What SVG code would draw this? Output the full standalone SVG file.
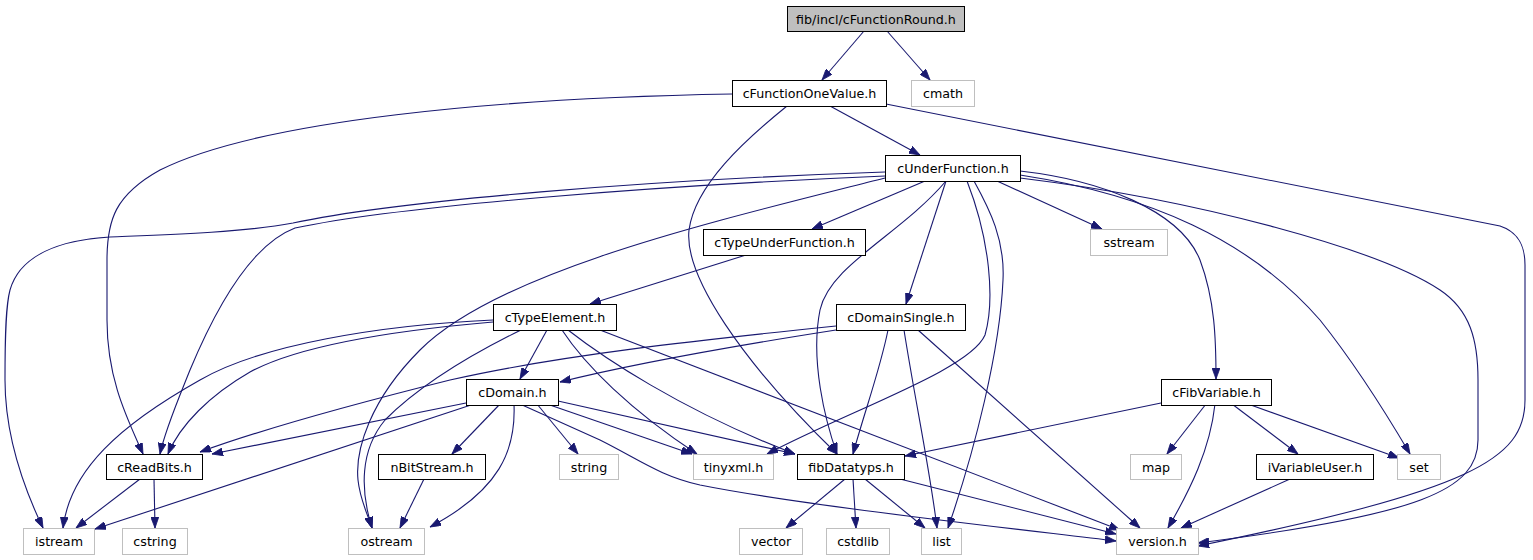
<svg xmlns="http://www.w3.org/2000/svg" width="1533" height="560" viewBox="0 0 1533 560">
<style>
.n rect{fill:#fff;stroke:#000;stroke-width:1}
.x rect{fill:#fff;stroke:#bfbfbf;stroke-width:1}
.r rect{fill:#bfbfbf;stroke:#000;stroke-width:1}
text{font-family:"DejaVu Sans",sans-serif;font-size:12.7px;text-anchor:middle;fill:#000}
#edges path{fill:none;stroke:#191970;stroke-width:1.1;marker-end:url(#a)}
</style>
<defs>
<marker id="a" markerUnits="userSpaceOnUse" viewBox="0 0 11 8" markerWidth="11" markerHeight="8" refX="11" refY="4" orient="auto"><path d="M0,0 L11,4 L0,8 z" fill="#191970" stroke="#191970" stroke-width="0.8"/></marker>
</defs>
<rect width="1533" height="560" fill="#fff"/>
<g id="edges">
<path d="M864,31 L822,80"/>
<path d="M887,31 L930,80"/>
<path d="M830,106 L920,155"/>
<path d="M732,94 C500,98 260,120 160,170 C115,195 107,220 107,260 L107,320 C107,380 128,420 143,454"/>
<path d="M787,106 C745,140 695,185 689,230 C684,275 740,360 837,454"/>
<path d="M886,104 L1500,226 C1518,232 1525,245 1525,265 L1525,400 C1525,460 1470,490 1198,546"/>
<path d="M925,181 L812,229"/>
<path d="M997,181 L1102,229"/>
<path d="M946,181 L906,304"/>
<path d="M1020,171 C1100,180 1180,210 1200,260 C1215,300 1216,340 1216,379"/>
<path d="M1020,175 C1150,195 1250,240 1320,320 C1360,370 1390,420 1410,454"/>
<path d="M1020,178 C1200,200 1380,250 1440,290 C1470,310 1478,340 1478,380 L1478,440 C1478,490 1420,515 1198,543"/>
<path d="M974,181 C990,210 1005,240 1003,280 C1000,350 975,450 948,528"/>
<path d="M967,181 C990,240 995,300 985,335 C970,370 850,410 767,454"/>
<path d="M946,181 C900,235 830,265 820,310 C810,360 825,420 837,454"/>
<path d="M885,178 C720,220 500,270 420,350 C370,400 355,450 358,480 C360,500 368,515 372,528"/>
<path d="M885,172 C650,180 400,200 293,223 C240,233 160,235 110,237 C60,240 20,255 10,290 C6,305 5,330 5,380 C5,430 20,480 43,528"/>
<path d="M885,176 C650,186 400,206 295,228 C250,245 215,310 190,370 C178,400 165,430 160,454"/>
<path d="M746,255 L590,304"/>
<path d="M521,330 C470,355 420,385 385,420 C360,450 360,490 372,528"/>
<path d="M493,320 C380,325 260,345 200,380 C120,425 70,470 63,528"/>
<path d="M493,322 C400,330 300,345 250,372 C210,395 180,425 168,454"/>
<path d="M547,330 L520,379"/>
<path d="M562,330 C585,365 630,410 697,454"/>
<path d="M568,330 C600,355 680,410 795,454"/>
<path d="M600,330 L1120,530"/>
<path d="M836,326 C700,340 560,355 450,380 C350,405 260,430 200,452"/>
<path d="M836,330 C740,345 640,362 560,382"/>
<path d="M888,330 C880,370 865,410 853,454"/>
<path d="M904,330 C915,400 930,470 937,528"/>
<path d="M918,330 L1140,528"/>
<path d="M466,403 L212,454"/>
<path d="M474,404 L95,529"/>
<path d="M500,404 L452,454"/>
<path d="M514,404 C516,450 500,490 430,527"/>
<path d="M537,404 L578,454"/>
<path d="M547,404 L692,454"/>
<path d="M558,401 L795,454"/>
<path d="M520,404 L600,440 C640,460 660,476 700,485 C800,505 1000,527 1116,541"/>
<path d="M1161,403 L905,456"/>
<path d="M1206,404 L1167,454"/>
<path d="M1215,404 C1210,450 1190,490 1168,528"/>
<path d="M1232,404 L1298,454"/>
<path d="M1248,404 L1399,458"/>
<path d="M1290,479 L1181,528"/>
<path d="M845,479 L786,528"/>
<path d="M853,479 L856,528"/>
<path d="M865,479 L925,528"/>
<path d="M900,479 L1116,534"/>
<path d="M140,479 L76,528"/>
<path d="M154,479 L155,528"/>
<path d="M424,479 L400,528"/>
</g>
<g id="n_root" class="r"><rect x="787.5" y="6.5" width="177" height="25"/><text x="876" y="23.5">fib/incl/cFunctionRound.h</text></g>
<g id="n_cFunctionOneValue" class="n"><rect x="732.5" y="80.5" width="154" height="26"/><text x="809.5" y="98">cFunctionOneValue.h</text></g>
<g id="n_cmath" class="x"><rect x="911.5" y="80.5" width="63" height="26"/><text x="943" y="98">cmath</text></g>
<g id="n_cUnderFunction" class="n"><rect x="885.5" y="155.5" width="135" height="26"/><text x="953" y="173">cUnderFunction.h</text></g>
<g id="n_cTypeUnderFunction" class="n"><rect x="703.5" y="229.5" width="162" height="26"/><text x="784.5" y="247">cTypeUnderFunction.h</text></g>
<g id="n_sstream" class="x"><rect x="1090.5" y="229.5" width="77" height="26"/><text x="1129" y="247">sstream</text></g>
<g id="n_cTypeElement" class="n"><rect x="493.5" y="304.5" width="123" height="26"/><text x="555" y="322">cTypeElement.h</text></g>
<g id="n_cDomainSingle" class="n"><rect x="836.5" y="304.5" width="129" height="26"/><text x="901" y="322">cDomainSingle.h</text></g>
<g id="n_cDomain" class="n"><rect x="466.5" y="379.5" width="92" height="26"/><text x="512.5" y="397">cDomain.h</text></g>
<g id="n_cFibVariable" class="n"><rect x="1161.5" y="379.5" width="110" height="26"/><text x="1216.5" y="397">cFibVariable.h</text></g>
<g id="n_cReadBits" class="n"><rect x="106.5" y="454.5" width="96" height="25"/><text x="154.5" y="471.5">cReadBits.h</text></g>
<g id="n_nBitStream" class="n"><rect x="378.5" y="454.5" width="107" height="25"/><text x="432" y="471.5">nBitStream.h</text></g>
<g id="n_string" class="x"><rect x="559.5" y="454.5" width="59" height="25"/><text x="589" y="471.5">string</text></g>
<g id="n_tinyxml" class="x"><rect x="693.5" y="454.5" width="80" height="25"/><text x="733.5" y="471.5">tinyxml.h</text></g>
<g id="n_fibDatatyps" class="n"><rect x="797.5" y="454.5" width="107" height="25"/><text x="851" y="471.5">fibDatatyps.h</text></g>
<g id="n_map" class="x"><rect x="1130.5" y="454.5" width="51" height="25"/><text x="1156" y="471.5">map</text></g>
<g id="n_iVariableUser" class="n"><rect x="1256.5" y="454.5" width="117" height="25"/><text x="1315" y="471.5">iVariableUser.h</text></g>
<g id="n_set" class="x"><rect x="1397.5" y="454.5" width="43" height="25"/><text x="1419" y="471.5">set</text></g>
<g id="n_istream" class="x"><rect x="23.5" y="528.5" width="71" height="26"/><text x="59" y="546">istream</text></g>
<g id="n_cstring" class="x"><rect x="122.5" y="528.5" width="65" height="26"/><text x="155" y="546">cstring</text></g>
<g id="n_ostream" class="x"><rect x="348.5" y="528.5" width="76" height="26"/><text x="386.5" y="546">ostream</text></g>
<g id="n_vector" class="x"><rect x="739.5" y="528.5" width="63" height="26"/><text x="771" y="546">vector</text></g>
<g id="n_cstdlib" class="x"><rect x="826.5" y="528.5" width="63" height="26"/><text x="858" y="546">cstdlib</text></g>
<g id="n_list" class="x"><rect x="921.5" y="528.5" width="40" height="26"/><text x="941.5" y="546">list</text></g>
<g id="n_version" class="x"><rect x="1116.5" y="528.5" width="82" height="26"/><text x="1157.5" y="546">version.h</text></g>
</svg>
